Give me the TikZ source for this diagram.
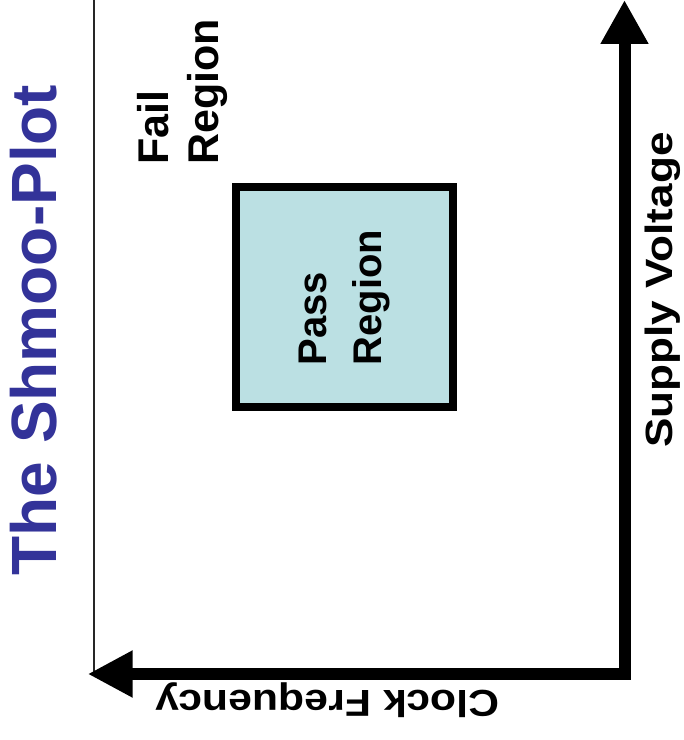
\documentclass[tikz,border=0pt]{standalone}
\usepackage{fontspec}
\setmainfont{Liberation Sans}
\usetikzlibrary{arrows.meta}
\definecolor{passfill}{HTML}{BBE0E3}
\definecolor{titleblue}{HTML}{333399}
\begin{document}
\begin{tikzpicture}[x=1pt,y=1pt,
  lbl/.style={font=\bfseries, inner sep=0pt},
  axis/.style={line width=12pt, line join=miter,
    {Triangle[length=45pt,width=44pt]}-{Triangle[length=44pt,width=45pt]}},
  passbox/.style={draw, line width=8pt, fill=passfill, rotate=90,
    minimum width=220pt, minimum height=216.5pt, align=left,
    font=\fontsize{40}{55}\selectfont\bfseries}]
\useasboundingbox (0,0) rectangle (684,740);
% thin left line
\coordinate (ltop) at (94,740);
\coordinate (lbot) at (94,66);
\draw[line width=1.5pt, black!85] (ltop) -- (lbot);
% axes
\coordinate (O) at (624.5,66);
\coordinate (X) at (87.7,66);
\coordinate (Y) at (624.5,740);
\draw[axis] (X) -- (O) -- (Y);
% pass region
\node[passbox] (pass) at (344.25,442.5) {Pass\\Region};
% fail region
\node[lbl, rotate=90, align=left, font=\fontsize{43}{50}\selectfont\bfseries] (fail) at (182,648) {Fail\\Region};
% title
\node[lbl, rotate=90, anchor=base, text=titleblue, font=\fontsize{64}{70}\selectfont\bfseries] (title) at (56.7,410) {The Shmoo-Plot};
% axis labels
\node[lbl, rotate=90, xscale=1.16, anchor=base, font=\fontsize{38}{44}\selectfont\bfseries] (sv) at (672,450) {Supply Voltage};
\node[lbl, rotate=180, xscale=1.14, anchor=base, font=\fontsize{37.5}{44}\selectfont\bfseries] (cf) at (327.5,50) {Clock Frequency};
\end{tikzpicture}
\end{document}
